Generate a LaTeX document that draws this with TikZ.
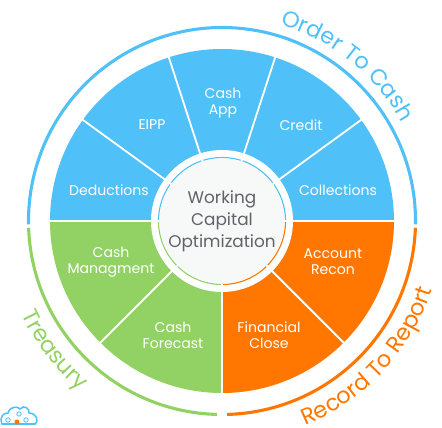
\documentclass[tikz,border=0pt]{standalone}
\usepackage{fontspec}
\setmainfont{Poppins}
\usetikzlibrary{decorations.text}
\definecolor{skyblue}{HTML}{4FC1F8}
\definecolor{leafgreen}{HTML}{92D264}
\definecolor{deeporange}{HTML}{FF7700}
\definecolor{hubgray}{HTML}{F7F8F8}
\definecolor{hubtext}{HTML}{5F6368}
\def \wheelRadius {172}
\def \hubRadius {71}
\def \innerRadius {63.5}
\def \bandRadius {193.5}
\tikzset{
   slicelabel/.style={text=white,align=center,font=\fontsize{10}{11.4}\selectfont},
   hublabel/.style={text=hubtext,align=center,font=\fontsize{12}{15.6}\selectfont},
   divider/.style={draw=white,line width=1.3pt},
   bandarc/.style={line width=2.2pt},
   hubarc/.style={line width=0.8pt}
}
\begin{document}
\begin{tikzpicture}[x=0.025cm,y=0.025cm]
   \useasboundingbox (-222,-207) rectangle (220,221);
   % slices
   \fill[skyblue] (\wheelRadius,0) arc (0:180:\wheelRadius) -- cycle;
   \fill[leafgreen] (-\wheelRadius,0) arc (180:270:\wheelRadius) -- (0,0) -- cycle;
   \fill[deeporange] (0,-\wheelRadius) arc (270:360:\wheelRadius) -- (0,0) -- cycle;
   % hub ring
   \fill[white] (0,0) circle (\hubRadius);
   \draw[hubarc,skyblue] (\innerRadius,0) arc (0:180:\innerRadius);
   \draw[hubarc,leafgreen] (-\innerRadius,0) arc (180:270:\innerRadius);
   \draw[hubarc,deeporange] (0,-\innerRadius) arc (270:360:\innerRadius);
   % dividers
   \foreach \a in {0,36,72,108,144,180,225,270,315}
      \draw[divider] (\a:\innerRadius-1) -- (\a:\wheelRadius+1);
   \fill[hubgray] (0,0) circle (\innerRadius-1);
   % outer bands
   \draw[bandarc,skyblue] (-1:\bandRadius) arc (-1:181:\bandRadius);
   \draw[bandarc,leafgreen] (182:\bandRadius) arc (182:268.5:\bandRadius);
   \draw[bandarc,deeporange] (271.5:\bandRadius) arc (271.5:358:\bandRadius);
   % band titles
   \path[postaction={decorate,decoration={text along path,text align=center,
      text={|\fontsize{16}{16}\selectfont\color{skyblue}|Order To Cash}}}]
      (75:205) arc (75:27:205);
   \path[postaction={decorate,decoration={text along path,text align=center,
      text={|\fontsize{16}{16}\selectfont\color{deeporange}|Record To Report}}}]
      (-72:221) arc (-72:-14:221);
   \path[postaction={decorate,decoration={text along path,text align=center,
      text={|\fontsize{16}{16}\selectfont\color{leafgreen}|Treasury}}}]
      (-170:221) arc (-170:-115:221);
   % labels
   \node[slicelabel] (deductions) at (-113,31) {Deductions};
   \node[slicelabel] (eipp) at (-70,96) {EIPP};
   \node[slicelabel] (cashapp) at (1,118) {Cash\\App};
   \node[slicelabel] (credit) at (79,96) {Credit};
   \node[slicelabel] (collections) at (116,31) {Collections};
   \node[slicelabel] (cashmgmt) at (-111,-41) {Cash\\Managment};
   \node[slicelabel] (forecast) at (-49,-114) {Cash\\Forecast};
   \node[slicelabel] (close) at (47,-114) {Financial\\Close};
   \node[slicelabel] (recon) at (111,-41) {Account\\Recon};
   \node[hublabel] (hub) at (0,0) {Working\\Capital\\Optimization};
   % logo
   \begin{scope}[shift={(-222,-207)}]
      \draw[skyblue,line width=1.1pt,line cap=round] (2,4)
         .. controls (-1,12) and (4,15) .. (8,15)
         .. controls (10,22) and (18,22) .. (20,19)
         .. controls (24,24) and (30,19) .. (29,15)
         .. controls (37,15) and (39,6) .. (35,4) -- cycle;
      \fill[deeporange] (17,6) circle (2.5);
      \draw[skyblue,line width=0.6pt] (8,8) circle (2.2);
      \draw[skyblue,line width=0.6pt] (19,14) circle (2.2);
      \draw[skyblue,line width=0.6pt] (26,8) circle (2.2);
   \end{scope}
\end{tikzpicture}
\end{document}
